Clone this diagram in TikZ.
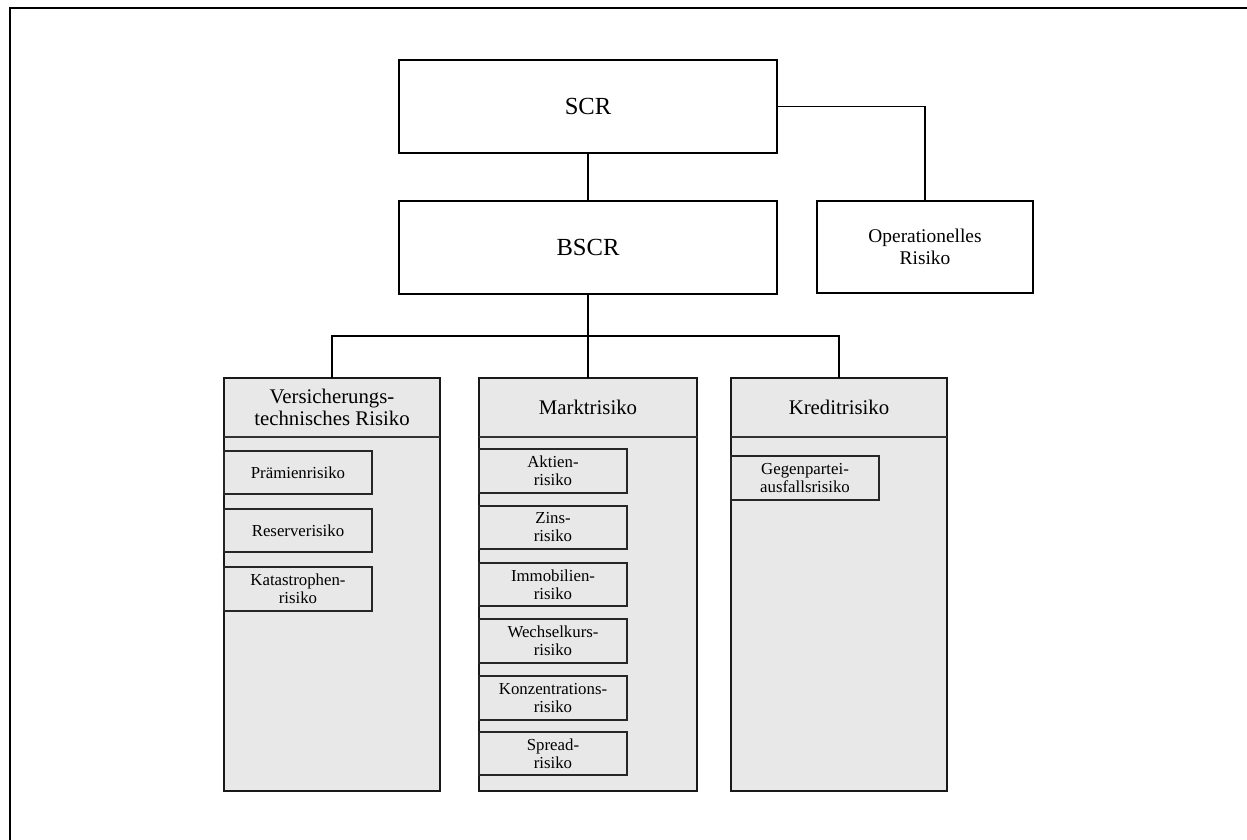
\documentclass[tikz,border=0pt]{standalone}
\usepackage{fontspec}
\setmainfont{Liberation Serif}
\definecolor{boxgray}{HTML}{E8E8E8}
\begin{document}
\begin{tikzpicture}[x=0.5pt,y=-0.5pt,
  base/.style={draw, inner sep=0pt, outer sep=0pt, anchor=north west, align=center},
  dims/.style 2 args={minimum width=#1*0.5pt, minimum height=#2*0.5pt},
  topbox/.style={base, fill=white, line width=0.95pt},
  catbox/.style={base, fill=boxgray, line width=1.15pt, draw=black!90},
  cathead/.style={inner sep=0pt, outer sep=0pt, anchor=north west, align=center,
    font=\fontsize{10.4}{10.9}\selectfont},
  subbox/.style={base, fill=boxgray, line width=0.75pt, draw=black!85,
    font=\fontsize{8.4}{9}\selectfont},
  link/.style={line width=0.9pt},
  headline/.style={line width=0.55pt, draw=black!80}]
\useasboundingbox (0,0) rectangle (1247,840);

% frame
\draw[line width=1.3pt] (10,845) -- (10,8) -- (1252,8);

% top level
\node[topbox, dims={378}{93}, font=\fontsize{12.3}{14}\selectfont] (scr) at (399,60) {SCR};
\node[topbox, dims={378}{93}, font=\fontsize{12.3}{14}\selectfont] (bscr) at (399,201) {BSCR};
\node[topbox, dims={216}{92}, font=\fontsize{9.7}{11.3}\selectfont] (op) at (817,201) {Operationelles\\Risiko};

% category boxes
\node[catbox, dims={216}{413}] (vt) at (224,378) {};
\node[catbox, dims={218}{413}] (mr) at (479,378) {};
\node[catbox, dims={216}{413}] (kr) at (731,378) {};

\node[cathead, dims={216}{59}] (vth) at (vt.north west) {Versicherungs-\\technisches Risiko};
\node[cathead, dims={218}{59}] (mrh) at (mr.north west) {Marktrisiko};
\node[cathead, dims={216}{59}] (krh) at (kr.north west) {Kreditrisiko};
\draw[headline] (vth.south west) -- (vth.south east);
\draw[headline] (mrh.south west) -- (mrh.south east);
\draw[headline] (krh.south west) -- (krh.south east);

% sub-risks
\node[subbox, dims={148}{43}] (v1) at (224,451) {Prämienrisiko};
\node[subbox, dims={148}{43}] (v2) at (224,509) {Reserverisiko};
\node[subbox, dims={148}{44}] (v3) at (224,567) {Katastrophen-\\risiko};

\node[subbox, dims={148}{44}] (m1) at (479,449) {Aktien-\\risiko};
\node[subbox, dims={148}{43}] (m2) at (479,506) {Zins-\\risiko};
\node[subbox, dims={148}{43}] (m3) at (479,563) {Immobilien-\\risiko};
\node[subbox, dims={148}{44}] (m4) at (479,619) {Wechselkurs-\\risiko};
\node[subbox, dims={148}{44}] (m5) at (479,676) {Konzentrations-\\risiko};
\node[subbox, dims={148}{43}] (m6) at (479,732) {Spread-\\risiko};

\node[subbox, dims={148}{44}] (k1) at (731,456) {Gegenpartei-\\ausfallsrisiko};

% connectors
\coordinate (bus) at (588,336);
\draw[link] (scr.south) -- (bscr.north);
\draw[link] (scr.east) -| (op.north);
\draw[link] (bscr.south) -- (bus);
\draw[link] (vt.north) |- (bus) -| (kr.north);
\draw[link] (bus) -- (mr.north);
\end{tikzpicture}
\end{document}
